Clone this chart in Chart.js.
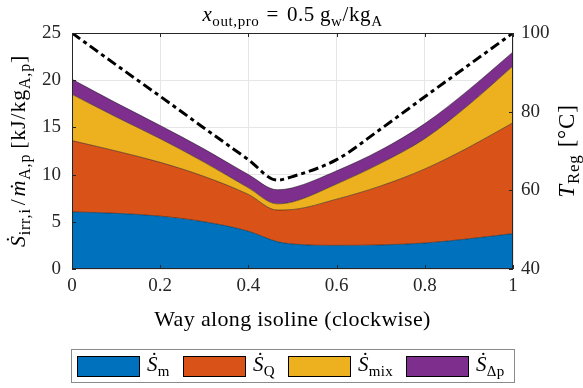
<!DOCTYPE html>
<html><head><meta charset="utf-8">
<script src="https://cdn.jsdelivr.net/npm/chart.js@4/dist/chart.umd.min.js"></script>
<style>html,body{margin:0;padding:0;background:#fff;} #wrap{width:583px;height:388px;position:relative;}</style>
</head><body><div id="wrap"><canvas id="c" width="583" height="388"></canvas></div>
<script>
// ---- data ----
const wayAlong = [0, 0.1, 0.2, 0.3, 0.4, 0.465, 0.5, 0.6, 0.7, 0.8, 0.9, 1.0];
const sM   = [6.05, 5.9, 5.6, 5.0, 4.0, 2.9, 2.65, 2.5, 2.55, 2.75, 3.2, 3.75];
const sQ   = [7.55, 6.6, 5.7, 4.8, 3.9, 3.35, 3.65, 4.9, 6.25, 7.85, 9.7, 11.75];
const sMix = [4.9, 3.6, 2.5, 1.5, 0.7, 0.65, 0.8, 1.6, 2.4, 3.2, 4.5, 6.0];
const sDp  = [1.6, 1.5, 1.4, 1.4, 1.4, 1.5, 1.5, 1.4, 1.4, 1.6, 1.6, 1.5];
const tReg = [100, 91.9, 83.9, 75.8, 67.8, 62.6, 63.5, 67.8, 75.6, 83.8, 91.9, 100];
const xTicks = [0, 0.2, 0.4, 0.6, 0.8, 1];
const yTicks = [0, 5, 10, 15, 20, 25];
const y2Ticks = [40, 60, 80, 100];
const seriesNames = ['m', 'Q', 'mix', '\u0394p'];
const colors = ['#0072BD', '#D95319', '#EDB120', '#7E2F8E'];

const FONT = '"Liberation Serif", "DejaVu Serif", serif';
const pts = arr => wayAlong.map((x, i) => ({x: x, y: arr[i]}));

function segFont(s, size) {
  return (s.it ? 'italic ' : '') + (s.sub ? Math.round(size * 0.72) : size) + 'px ' + FONT;
}
function drawRich(ctx, segs, cx, cy, size, rot, align, ls) {
  ctx.save();
  ctx.letterSpacing = (ls || 0) + 'px';
  ctx.translate(cx, cy);
  if (rot) ctx.rotate(rot);
  let w = 0;
  for (const s of segs) { ctx.font = segFont(s, size); s._w = ctx.measureText(s.t).width + (s.gap || 0); w += s._w; }
  let x = align === 'left' ? 0 : (align === 'right' ? -w : -w / 2);
  ctx.textBaseline = 'alphabetic';
  ctx.fillStyle = '#000';
  const base = size * 0.33;
  for (const s of segs) {
    ctx.font = segFont(s, size);
    const dy = s.sub ? size * 0.22 : 0;
    ctx.fillText(s.t, x, base + dy);
    if (s.dot) {
      ctx.font = size + 'px ' + FONT;
      const dw = ctx.measureText('\u02D9').width;
      ctx.fillText('\u02D9', x + (s._w - (s.gap||0)) / 2 - dw / 2 + size * 0.1, base - size * (s.dotUp || 0));
    }
    x += s._w;
  }
  ctx.restore();
}

const textPlugin = {
  id: 'texts',
  afterDraw(chart) {
    const ctx = chart.ctx;
    const a = chart.chartArea;
    // box + inward ticks
    ctx.save();
    ctx.strokeStyle = '#262626';
    ctx.lineWidth = 1;
    ctx.strokeRect(Math.round(a.left) + 0.5, Math.round(a.top) + 0.5, Math.round(a.right - a.left) - 1, Math.round(a.bottom - a.top) - 1);
    const xs = chart.scales.x, ys = chart.scales.y, y2 = chart.scales.y2;
    ctx.beginPath();
    for (const t of xTicks) {
      const px = Math.round(xs.getPixelForValue(t)) + 0.5;
      ctx.moveTo(px, a.bottom); ctx.lineTo(px, a.bottom - 4);
      ctx.moveTo(px, a.top); ctx.lineTo(px, a.top + 4);
    }
    for (const t of yTicks) {
      const py = Math.round(ys.getPixelForValue(t)) + 0.5;
      ctx.moveTo(a.left, py); ctx.lineTo(a.left + 4, py);
    }
    for (const t of y2Ticks) {
      const py = Math.round(y2.getPixelForValue(t)) + 0.5;
      ctx.moveTo(a.right, py); ctx.lineTo(a.right - 4, py);
    }
    ctx.stroke();
    ctx.restore();

    // title
    drawRich(ctx, [
      {t: 'x', it: true}, {t: 'out,pro', sub: true, gap: 7}, {t: '=', gap: 8}, {t: '0.5', gap: 5}, {t: 'g'}, {t: 'w', sub: true}, {t: '/kg'}, {t: 'A', sub: true}
    ], (a.left + a.right) / 2, 14, 21, 0, 'center', 0.6);
    // x label
    drawRich(ctx, [{t: 'Way along isoline (clockwise)'}], (a.left + a.right) / 2, 319, 22, 0, 'center', 0.35);
    // left y label
    drawRich(ctx, [
      {t: 'S', it: true, dot: true, dotUp: 0.2}, {t: 'irr,i', sub: true, gap: 3}, {t: '/', gap: 2}, {t: 'm', it: true, dot: true, dotUp: 0.0},
      {t: 'A,p', sub: true, gap: 5}, {t: '[kJ/kg'}, {t: 'A,p', sub: true}, {t: ']'}
    ], 18, (a.top + a.bottom) / 2, 22, -Math.PI / 2, 'center', 0.8);
    // right y label
    drawRich(ctx, [{t: 'T', it: true}, {t: 'Reg', sub: true, gap: 7}, {t: '[\u00B0C]'}], 566, (a.top + a.bottom) / 2, 23, -Math.PI / 2, 'center', 0.8);

    // legend
    ctx.save();
    ctx.fillStyle = '#fff';
    ctx.fillRect(71, 349, 444, 34);
    ctx.strokeStyle = '#8a8a8a';
    ctx.lineWidth = 1;
    ctx.strokeRect(71.5, 349.5, 443, 33);
    const sw = [77, 183, 288, 406];
    for (let i = 0; i < 4; i++) {
      ctx.fillStyle = colors[i];
      ctx.fillRect(sw[i], 356, 63, 21);
      ctx.strokeStyle = '#000';
      ctx.strokeRect(sw[i] + 0.5, 356.5, 62, 20);
      drawRich(ctx, [{t: 'S', it: true, dot: true, dotUp: 0.2}, {t: seriesNames[i], sub: true}], sw[i] + 70, 364, 21, 0, 'left', 0.3);
    }
    ctx.restore();
  }
};

const areaDs = (label, arr, i, fill) => ({
  label: label, data: pts(arr), yAxisID: 'y', xAxisID: 'x',
  backgroundColor: colors[i], borderColor: 'rgba(20,20,20,0.85)', borderWidth: 0.6,
  fill: fill, pointRadius: 0, cubicInterpolationMode: 'monotone', order: 1
});

const TICKFONT = {family: FONT, size: 19};
new Chart(document.getElementById('c'), {
  type: 'line',
  data: {
    datasets: [
      areaDs('S_m', sM, 0, 'origin'),
      areaDs('S_Q', sQ, 1, 0),
      areaDs('S_mix', sMix, 2, 1),
      areaDs('S_dp', sDp, 3, 2),
      { label: 'T_Reg', data: pts(tReg), yAxisID: 'y2', xAxisID: 'x', borderColor: '#000', borderWidth: 3,
        borderDash: [10, 4, 4, 4], fill: false, pointRadius: 0, cubicInterpolationMode: 'monotone', order: -1 }
    ]
  },
  options: {
    responsive: false, animation: false, devicePixelRatio: 1,
    layout: { padding: { top: 33, left: 0, right: 0, bottom: 0 } },
    plugins: { legend: { display: false }, tooltip: { enabled: false }, filler: { drawTime: 'beforeDatasetsDraw' } },
    scales: {
      x: {
        type: 'linear', min: 0, max: 1,
        afterBuildTicks: s => { s.ticks = xTicks.map(v => ({value: v})); },
        afterFit: s => { s.height = 119; },
        ticks: { callback: v => String(v), font: TICKFONT, color: '#262626', padding: 6, maxRotation: 0 },
        grid: { color: '#e6e6e6', drawTicks: false }, border: { display: false }
      },
      y: {
        type: 'linear', position: 'left', stacked: true, min: 0, max: 25,
        afterBuildTicks: s => { s.ticks = yTicks.map(v => ({value: v})); },
        afterFit: s => { s.width = 72; },
        ticks: { font: TICKFONT, color: '#262626', padding: 11 },
        grid: { color: '#e6e6e6', drawTicks: false }, border: { display: false }
      },
      y2: {
        type: 'linear', position: 'right', min: 40, max: 100,
        afterBuildTicks: s => { s.ticks = y2Ticks.map(v => ({value: v})); },
        afterFit: s => { s.width = 70; },
        ticks: { font: TICKFONT, color: '#262626', padding: 8 },
        grid: { display: false, drawTicks: false }, border: { display: false }
      }
    }
  },
  plugins: [textPlugin]
});
</script></body></html>
